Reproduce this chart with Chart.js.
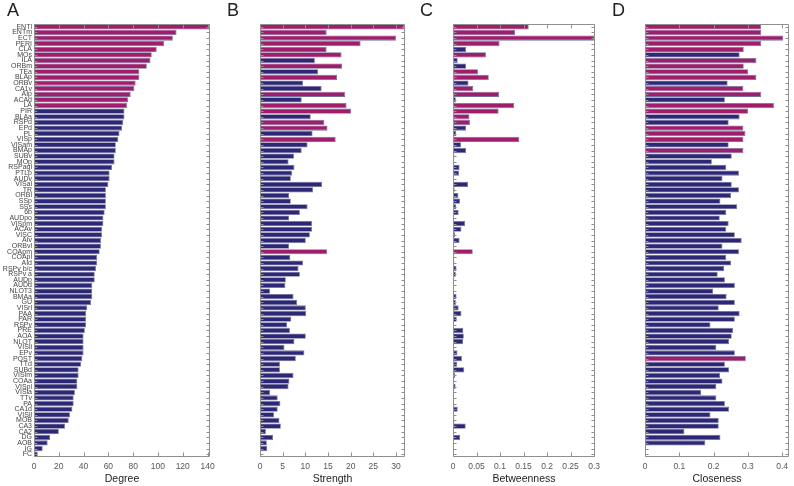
<!DOCTYPE html>
<html><head><meta charset="utf-8">
<script src="https://cdn.jsdelivr.net/npm/chart.js@4.4.0/dist/chart.umd.min.js"></script>
<style>
html,body{margin:0;padding:0;background:#fff;}
#wrap{position:relative;width:794px;height:486px;overflow:hidden;}
canvas{position:absolute;top:0;}
.lbl{position:absolute;top:1px;font-family:"Liberation Sans",Arial,sans-serif;font-size:18px;line-height:18px;color:#222;}
</style></head><body>
<div id="wrap">
<canvas id="cA" width="220" height="486" style="left:0px"></canvas>
<canvas id="cB" width="206" height="486" style="left:212px"></canvas>
<canvas id="cC" width="204" height="486" style="left:405px"></canvas>
<canvas id="cD" width="197" height="486" style="left:597px"></canvas>
<div class="lbl" style="left:7px">A</div>
<div class="lbl" style="left:227px">B</div>
<div class="lbl" style="left:420px">C</div>
<div class="lbl" style="left:612px">D</div>
</div>
<script>
const regions = ["ENTl","ENTm","ECT","PERI","CLA","MOs","ILA","ORBm","TEa","BLAp","ORBv","CA1v","AIp","ACAd","LA",
"PIR","BLAa","RSPd","EPd","PL","VISp","VISam","BMAp","SUBv","MOp","RSPagl","PTLp","AUDv","VISal","TR",
"ORBl","SSp","SSs","6b","AUDpo","VISpm","ACAv","VISC","AIv","ORBvl","COApm","COApl","AId","RSPv b/c","RSPv a",
"AUDp","AUDd","NLOT3","BMAa","GU","VISrl","PAA","PAR","RSPv","PRE","AOA","NLOT","VISli","EPv","POST",
"TTd","SUBd","VISlm","COAa","VISpl","VISla","TTv","PA","CA1d","VISll","MOB","CA3","CA2","DG","AOB","IG","FC"];

const degree = [142,115,112,105,99,95,94,91,85,85,82,81,78,76,75,
73,73,72,71,69,68,66,66,65,65,63,61,61,60,58,
58,58,58,57,56,56,55,55,54,54,53,51,51,50,49,
49,47,47,47,46,43,42,42,42,41,40,40,40,40,39,
38,36,36,35,35,33,32,32,31,29,28,25,20,13,11,7,3];

const strength = [31.8,14.7,30.0,22.2,14.7,18.0,12.1,18.1,12.8,17.0,9.5,13.6,18.8,9.2,19.1,
20.1,11.2,14.2,14.9,11.6,16.7,10.5,9.2,7.5,6.3,7.6,7.1,6.8,13.7,11.7,
6.4,6.8,10.5,8.8,6.4,11.5,11.5,11.0,10.1,6.4,14.8,6.7,9.5,8.5,8.8,
5.7,5.6,2.2,7.4,8.2,10.1,10.2,6.9,6.0,6.6,10.1,7.6,5.4,9.8,7.9,
4.4,4.4,7.4,6.5,6.3,2.2,3.9,4.5,3.9,3.1,4.3,4.6,1.3,2.9,1.5,1.6,0.2];

const betweenness = [0.161,0.132,0.301,0.099,0.028,0.070,0.010,0.028,0.053,0.076,0.033,0.043,0.098,0.006,0.130,
0.097,0.035,0.036,0.028,0.007,0.141,0.017,0.028,0.003,0.001,0.014,0.013,0.001,0.032,0.0035,
0.0115,0.015,0.007,0.012,0.0005,0.026,0.018,0.0045,0.014,0.002,0.042,0,0.003,0.0075,0.006,
0,0.0005,0,0.0075,0.006,0.012,0.018,0.008,0.0005,0.022,0.023,0.0215,0,0.0095,0.019,
0.009,0.024,0.0045,0.001,0.0055,0,0,0,0.010,0,0.003,0.027,0,0.015,0,0,0];

const closeness = [0.339,0.339,0.403,0.339,0.288,0.276,0.325,0.288,0.301,0.325,0.241,0.287,0.339,0.233,0.376,
0.301,0.276,0.244,0.287,0.293,0.287,0.244,0.287,0.253,0.195,0.237,0.274,0.226,0.253,0.274,
0.251,0.220,0.269,0.237,0.218,0.244,0.237,0.262,0.282,0.226,0.274,0.237,0.251,0.231,0.212,
0.233,0.262,0.199,0.238,0.262,0.215,0.276,0.262,0.191,0.257,0.253,0.245,0.208,0.262,0.294,
0.233,0.245,0.219,0.226,0.208,0.164,0.208,0.233,0.245,0.191,0.215,0.215,0.115,0.220,0.176,0,0];

const axisTitles = ["Degree","Strength","Betweenness","Closeness"];
const highlightCounts = [15,15,15,18];

Chart.defaults.font.family = '"Liberation Sans", Arial, sans-serif';
const MAG = '#a01d6c', BLUE = '#2d2777';

const framePlugin = {
  id: 'frame',
  afterDatasetsDraw(chart) {
    const {ctx, chartArea: a, scales} = chart;
    const xs = scales.x, ys = scales.y;
    ctx.save();
    ctx.strokeStyle = '#8f8f8f';
    ctx.lineWidth = 1;
    const L = Math.round(a.left) + 0.5, R = Math.round(a.right) - 0.5;
    const T = Math.round(a.top) + 0.5, B = Math.round(a.bottom) - 0.5;
    ctx.beginPath();
    ctx.rect(L, T, R - L, B - T);
    xs.ticks.forEach((t) => {
      const x = Math.round(xs.getPixelForValue(t.value)) + 0.5;
      ctx.moveTo(x, T); ctx.lineTo(x, T + 4);
      ctx.moveTo(x, B); ctx.lineTo(x, B - 4);
    });
    chart.data.labels.forEach((l, i) => {
      const y = Math.round(ys.getPixelForValue(i)) + 0.5;
      ctx.moveTo(L, y); ctx.lineTo(L + 3, y);
      ctx.moveTo(R, y); ctx.lineTo(R - 3, y);
    });
    ctx.stroke();
    ctx.restore();
  }
};

function fmt(v) { return v === 0 ? '0' : String(+v.toFixed(4)); }

function makeChart(id, values, title, hiN, max, step, pad, showLabels) {
  const sorted = [...values].sort((a, b) => b - a);
  const cut = sorted[hiN - 1];
  const colors = values.map(v => v >= cut ? MAG : BLUE);
  new Chart(document.getElementById(id), {
    type: 'bar',
    data: { labels: regions, datasets: [{
      data: values, backgroundColor: colors, borderColor: '#76739a', borderWidth: 0.8,
      barPercentage: 0.93, categoryPercentage: 1
    }]},
    options: {
      indexAxis: 'y', responsive: false, animation: false,
      layout: { padding: { top: 24, left: pad[0], right: pad[1], bottom: 0 } },
      plugins: { legend: { display: false }, tooltip: { enabled: false } },
      scales: {
        x: {
          min: 0, max: max,
          grid: { display: false, drawTicks: false }, border: { display: false },
          ticks: { stepSize: step, includeBounds: false, font: { size: 8.5 }, color: '#555', padding: 5, maxRotation: 0, callback: fmt },
          title: { display: true, text: title, font: { size: 10.5 }, color: '#222', padding: { top: 0, bottom: 1 } },
          afterFit(s) { s.height = 29; }
        },
        y: {
          display: showLabels,
          grid: { display: false, drawTicks: false }, border: { display: false },
          ticks: { autoSkip: false, font: { size: 7 }, color: '#444', padding: 2 },
          afterFit(s) { s.width = 34; }
        }
      }
    },
    plugins: [framePlugin]
  });
}

makeChart('cA', degree, axisTitles[0], highlightCounts[0], 142, 20, [0, 10], true);
makeChart('cB', strength, axisTitles[1], highlightCounts[1], 32, 5, [14, 13], false);
makeChart('cC', betweenness, axisTitles[2], highlightCounts[2], 0.302, 0.05, [14, 14], false);
makeChart('cD', closeness, axisTitles[3], highlightCounts[3], 0.42, 0.1, [14, 5], false);
</script>
</body></html>
